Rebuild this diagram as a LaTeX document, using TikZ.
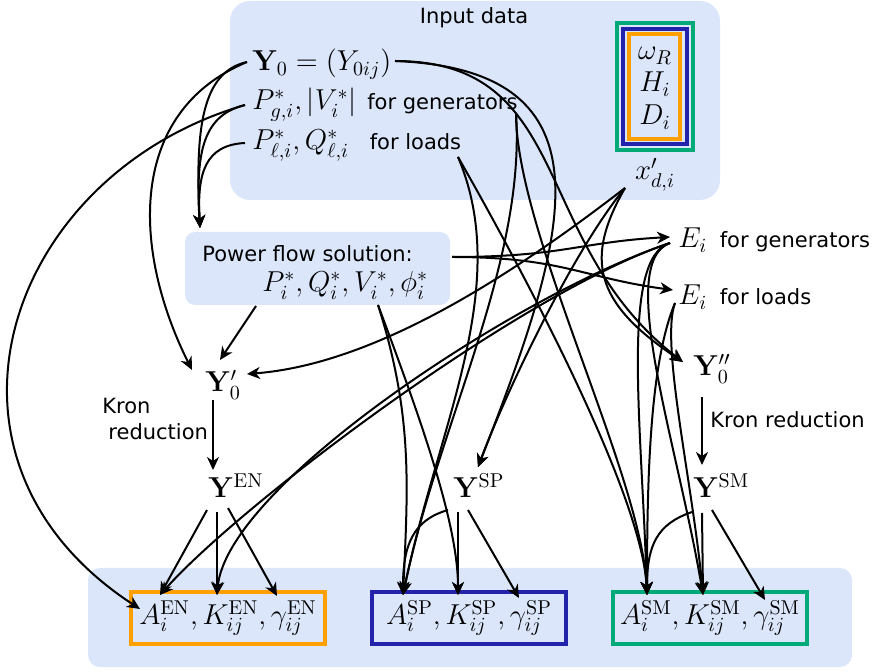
\documentclass[tikz,border=0pt]{standalone}
\usepackage[no-math]{fontspec}
\setmainfont{DejaVu Sans}
\usetikzlibrary{arrows.meta}
\definecolor{bgblue}{RGB}{219,230,251}
\definecolor{boxorange}{RGB}{255,160,0}
\definecolor{boxblue}{RGB}{34,34,170}
\definecolor{boxgreen}{RGB}{0,170,120}
\newcommand{\mth}[1]{{\fontsize{14}{17}\selectfont$#1$}}
\begin{document}
\begin{tikzpicture}[x=0.5pt,y=-0.5pt,
  txt/.style={font=\fontsize{10.5}{13}\selectfont, inner sep=0pt},
  arr/.style={line width=1pt, -{Stealth[length=6.5pt,width=6pt,inset=2pt]}},
  ln/.style={line width=1pt},
  resbox/.style={line width=1.6pt, minimum width=97pt, minimum height=26pt, inner sep=0pt},
  nest/.style={line width=1.6pt}]
\path[use as bounding box] (0,0) rectangle (872,672);
% backgrounds
\fill[bgblue, rounded corners=10pt] (230,1) rectangle (720,200);
\fill[bgblue, rounded corners=6pt] (88,568) rectangle (852,667);
\fill[bgblue, rounded corners=5pt] (185,232) rectangle (450,305);
% nested parameter boxes
\draw[nest, boxgreen] (617,23) rectangle (693,150);
\draw[nest, boxblue] (623,29) rectangle (687,144);
\draw[nest, boxorange] (629,34) rectangle (680,139);
% text nodes
\node[txt] (title) at (474,18) {Input data};
\node[txt, anchor=base west] (Y0) at (252,71) {\mth{\mathbf{Y}_0 = (Y_{0ij})}};
\node[txt, anchor=base west] (Pg) at (252,110) {\mth{P^*_{g,i}, |V^*_i|}\hspace{2pt} for generators};
\node[txt, anchor=base west] (Pl) at (252,150) {\mth{P^*_{\ell,i}, Q^*_{\ell,i}}\hspace{7pt} for loads};
\node[txt, anchor=base] (wR) at (655,60) {\mth{\omega_R}};
\node[txt, anchor=base] (Hi) at (655,92) {\mth{H_i}};
\node[txt, anchor=base] (Di) at (655,125) {\mth{D_i}};
\node[txt, anchor=base] (xd) at (655,180) {\mth{x'_{d,i}}};
\node[txt, anchor=base west] (PF) at (202,262) {Power flow solution:};
\node[txt, anchor=base west] (PFm) at (262,292) {\mth{P_i^*, Q_i^*, V_i^*, \phi_i^*}};
\node[txt, anchor=base west] (Eg) at (678,248) {\mth{E_i}\hspace{3pt} for generators};
\node[txt, anchor=base west] (El) at (678,305) {\mth{E_i}\hspace{3pt} for loads};
\node[txt, anchor=base west] (Y0p) at (205,392) {\mth{\mathbf{Y}_0'}};
\node[txt, anchor=base west] (Y0pp) at (693,376) {\mth{\mathbf{Y}_0''}};
\node[txt, anchor=north west, align=left] (kronL) at (102,398) {Kron\\\hspace{3pt}reduction};
\node[txt, anchor=base west] (kronR) at (710,428) {Kron reduction};
\node[txt, anchor=base west] (YEN) at (208,498) {\mth{\mathbf{Y}^{\mathrm{EN}}}};
\node[txt, anchor=base west] (YSP) at (453,498) {\mth{\mathbf{Y}^{\mathrm{SP}}}};
\node[txt, anchor=base west] (YSM) at (693,498) {\mth{\mathbf{Y}^{\mathrm{SM}}}};
\node[resbox, draw=boxorange] (BEN) at (228,618) {\mth{A_i^{\mathrm{EN}}, K_{ij}^{\mathrm{EN}}, \gamma_{ij}^{\mathrm{EN}}}};
\node[resbox, draw=boxblue] (BSP) at (469,618) {\mth{A_i^{\mathrm{SP}}, K_{ij}^{\mathrm{SP}}, \gamma_{ij}^{\mathrm{SP}}}};
\node[resbox, draw=boxgreen] (BSM) at (710,618) {\mth{A_i^{\mathrm{SM}}, K_{ij}^{\mathrm{SM}}, \gamma_{ij}^{\mathrm{SM}}}};
% connector end points
\coordinate (Y0w) at (247,62);
\coordinate (Y0e) at (395,61);
\coordinate (Pgw) at (245,105);
\coordinate (Pge) at (516,113);
\coordinate (Plw) at (245,143);
\coordinate (Ple) at (458,157);
\coordinate (xds) at (625,188);
\coordinate (PFt) at (200,228);
\coordinate (PFr) at (452,257);
\coordinate (PFbl) at (256,306);
\coordinate (PFb) at (378,305);
\coordinate (Egin) at (670,237);
\coordinate (Egout) at (670,243);
\coordinate (Elin) at (673,290);
\coordinate (Elout) at (675,303);
\coordinate (Y0pa) at (192,370);
\coordinate (Y0pb) at (220,360);
\coordinate (Y0pc) at (247,374);
\coordinate (Y0pd) at (213,400);
\coordinate (Y0ppin) at (683,362);
\coordinate (Y0ppd) at (702,397);
\coordinate (YENt) at (213,470);
\coordinate (YSMt) at (702,465);
\coordinate (YSPt) at (478,467);
\coordinate (YENa) at (207,510);
\coordinate (YENb) at (217,512);
\coordinate (YENc) at (228,508);
\coordinate (YSPa) at (448,510);
\coordinate (YSPb) at (458,512);
\coordinate (YSPc) at (468,510);
\coordinate (YSMa) at (692,512);
\coordinate (YSMb) at (702,513);
\coordinate (YSMc) at (712,510);
\coordinate (AENl) at (140,609);
\coordinate (AEN) at (160,595);
\coordinate (KEN) at (217,595);
\coordinate (GEN) at (277,596);
\coordinate (ASP) at (403,595);
\coordinate (KSP) at (458,595);
\coordinate (GSP) at (519,598);
\coordinate (ASM) at (647,595);
\coordinate (KSM) at (703,595);
\coordinate (GSM) at (765,600);
% connectors: input data -> power flow, Y0'
\draw[arr] (Y0w) .. controls +(-120,50) and +(-60,-120) .. (Y0pa);
\draw[arr] (Y0w) .. controls +(-45,10) and +(-5,-100) .. (PFt);
\draw[arr] (Pgw) .. controls +(-40,10) and +(-5,-80) .. (PFt);
\draw[arr] (Plw) .. controls +(-40,2) and +(-3,-55) .. (PFt);
\draw[arr] (Pgw) .. controls +(-240,70) and +(-230,-150) .. (AENl);
\draw[arr] (PFbl) -- (Y0pb);
\draw[arr] (xds) .. controls +(-110,85) and +(130,-10) .. (Y0pc);
\draw[arr] (Y0pd) -- (YENt);
\draw[arr] (Y0ppd) -- (YSMt);
% Y0 -> Y0'', Y^SP
\draw[arr] (Y0e) .. controls +(180,0) and +(-154,-119) .. (Y0ppin);
\draw[arr] (Y0e) .. controls +(225,9) and +(90,-230) .. (YSPt);
\draw[arr] (xds) .. controls +(-50,60) and +(30,-80) .. (YSPt);
\draw[arr] (xds) .. controls +(-40,70) and +(-90,-60) .. (Y0ppin);
% power flow -> E_i
\draw[arr] (PFr) .. controls +(110,0) and +(-90,5) .. (Egin);
\draw[arr] (PFr) .. controls +(110,0) and +(-90,-12) .. (Elin);
% E_i for generators -> parameters
\draw[arr] (Egout) .. controls +(-150,50) and +(80,-90) .. (AEN);
\draw[arr] (Egout) .. controls +(-150,50) and +(10,-110) .. (KEN);
\draw[arr] (Egout) .. controls +(-50,15) and +(-5,-170) .. (ASM);
\draw[arr] (Egout) .. controls +(-55,20) and +(-25,-150) .. (KSM);
% E_i for loads -> SM parameters
\draw[arr] (Elout) .. controls +(-25,60) and +(0,-120) .. (ASM);
\draw[arr] (Elout) .. controls +(-15,40) and +(-10,-110) .. (KSM);
% power flow -> SP parameters
\draw[arr] (PFb) .. controls +(35,110) and +(5,-110) .. (ASP);
\draw[arr] (PFb) .. controls +(45,120) and +(0,-70) .. (KSP);
% generator and load data -> SP, SM
\draw[arr] (Pge) .. controls +(10,150) and +(35,-170) .. (ASP);
\draw[arr] (Ple) .. controls +(55,130) and +(35,-170) .. (ASP);
\draw[arr] (Pge) .. controls +(0,120) and +(-5,-120) .. (ASM);
\draw[arr] (Ple) .. controls +(40,70) and +(-5,-110) .. (ASM);
% reduced matrices -> parameters
\draw[arr] (YENa) -- (AEN);
\draw[arr] (YENb) -- (KEN);
\draw[arr] (YENc) -- (GEN);
\draw[arr] (YSPa) .. controls +(-35,10) and +(0,-50) .. (ASP);
\draw[arr] (YSPb) -- (KSP);
\draw[arr] (YSPc) -- (GSP);
\draw[arr] (YSMa) .. controls +(-35,12) and +(0,-50) .. (ASM);
\draw[arr] (YSMb) -- (KSM);
\draw[arr] (YSMc) -- (GSM);
\end{tikzpicture}
\end{document}
